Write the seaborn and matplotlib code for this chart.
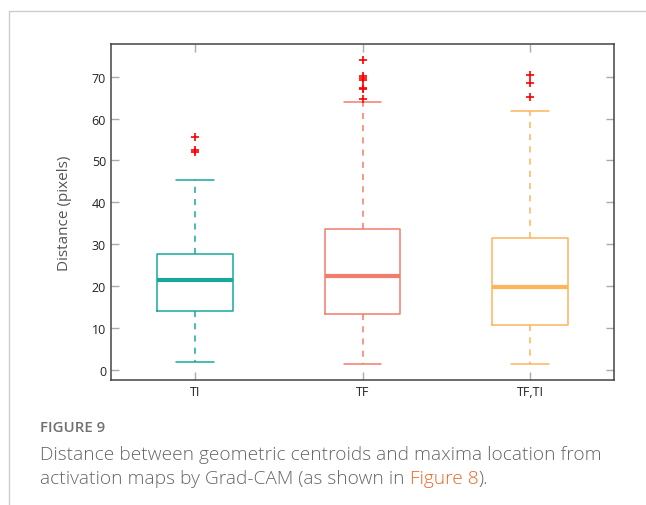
import pandas as pd
import seaborn as sns
import matplotlib.pyplot as plt

# Groups and box summaries
groups = ["TI", "TF", "TF,TI"]
whisker_low = [1.9, 1.35, 1.35]
q1 = [14.15, 13.3, 10.65]
median = [21.55, 22.5, 19.9]
q3 = [27.6, 33.6, 31.4]
whisker_high = [45.35, 64.0, 61.8]

# Outliers (red crosses)
outlier_group = ["TI", "TI", "TI",
                 "TF", "TF", "TF", "TF", "TF", "TF", "TF",
                 "TF,TI", "TF,TI", "TF,TI"]
outlier_value = [55.5, 52.1, 52.4,
                 74.0, 70.2, 69.7, 69.3, 67.4, 67.1, 64.6,
                 70.5, 68.4, 65.1]

colors = ["#17a89b", "#f27d6b", "#fdb45c"]

# five points per group -> quartiles land exactly on the read values
rows = []
for g, a, b, c, d, e in zip(groups, whisker_low, q1, median, q3, whisker_high):
    for v in (a, b, c, d, e):
        rows.append({"group": g, "distance": v})
box_df = pd.DataFrame(rows)
out_df = pd.DataFrame({"group": outlier_group, "distance": outlier_value})

sns.set_theme(style="white")
plt.rcParams["font.family"] = ["Open Sans", "DejaVu Sans"]

fig = plt.figure(figsize=(6.46, 5.06), dpi=100)
ax = fig.add_axes([0.1718, 0.2470, 0.7787, 0.6641])

sns.boxplot(data=box_df, x="group", y="distance", hue="group", order=groups,
            hue_order=groups, palette=colors, fill=False, width=0.45,
            whis=(0, 100), showfliers=False, linewidth=1.1, legend=False,
            medianprops={"linewidth": 3},
            whiskerprops={"linestyle": (0, (4, 4))},
            ax=ax)
sns.stripplot(data=out_df, x="group", y="distance", order=groups,
              jitter=False, marker="+", color="red", size=5.5, linewidth=1.2,
              ax=ax)

ax.set_xlim(-0.5, 2.5)
ax.set_ylim(-2.4, 77.8)
ax.set_yticks(range(0, 80, 10))
ax.set_xlabel("")
ax.set_ylabel("Distance (pixels)", fontsize=11, color="#555555", labelpad=14)
ax.tick_params(axis="both", direction="in", length=6, width=1, color="#aaaaaa",
               labelsize=9, labelcolor="#222222", top=True, right=True,
               left=True, bottom=True, labeltop=False, labelright=False)
for s in ax.spines.values():
    s.set_visible(True)
    s.set_color("#444444")
    s.set_linewidth(1.1)

# page frame lines
fig.add_artist(plt.Line2D([9 / 646, 1], [1 - 12 / 506, 1 - 12 / 506],
                          color="#cccccc", linewidth=1))
fig.add_artist(plt.Line2D([9 / 646, 9 / 646], [0, 1 - 12 / 506],
                          color="#cccccc", linewidth=1))

# caption
fig.text(40 / 646, 1 - 432 / 506, "FIGURE 9", fontsize=10.8,
         fontweight="semibold", color="#707070")
fig.text(40 / 646, 1 - 460 / 506,
         "Distance between geometric centroids and maxima location from",
         fontsize=13.8, fontweight="light", color="#666666")
t1 = fig.text(40 / 646, 1 - 484 / 506,
              "activation maps by Grad-CAM (as shown in ",
              fontsize=13.8, fontweight="light", color="#666666")
t2 = ax.annotate("Figure 8", xy=(1, 0), xycoords=t1, va="bottom",
                 fontsize=13.8, fontweight="light", color="#e8692a")
ax.annotate(").", xy=(1, 0), xycoords=t2, va="bottom",
            fontsize=13.8, fontweight="light", color="#666666")

fig.savefig("out.png", dpi=100)
